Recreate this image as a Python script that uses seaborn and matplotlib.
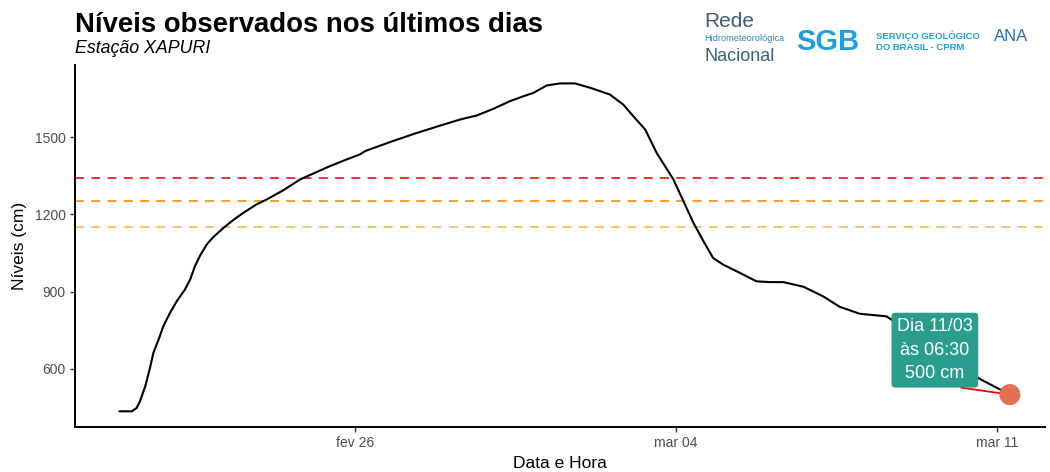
import pandas as pd
import numpy as np
import matplotlib
matplotlib.use("Agg")
import matplotlib.pyplot as plt
import seaborn as sns

# leituras da estação
horarios = [
    "2024-02-20 20:45", "2024-02-21 03:15", "2024-02-21 05:45", "2024-02-21 07:30",
    "2024-02-21 10:15", "2024-02-21 12:45", "2024-02-21 14:30", "2024-02-21 17:15",
    "2024-02-21 19:45", "2024-02-21 23:15", "2024-02-22 02:45", "2024-02-22 07:00",
    "2024-02-22 09:45", "2024-02-22 12:15", "2024-02-22 15:00", "2024-02-22 18:30",
    "2024-02-22 22:00", "2024-02-23 03:15", "2024-02-23 08:15", "2024-02-23 13:30",
    "2024-02-23 20:30", "2024-02-24 01:45", "2024-02-24 10:30", "2024-02-24 19:15",
    "2024-02-25 04:00", "2024-02-25 11:00", "2024-02-25 19:45", "2024-02-26 02:30",
    "2024-02-26 05:15", "2024-02-26 18:15", "2024-02-27 07:15", "2024-02-27 20:30",
    "2024-02-28 07:00", "2024-02-28 15:30", "2024-02-29 00:15", "2024-02-29 09:00",
    "2024-02-29 16:00", "2024-02-29 21:15", "2024-03-01 04:15", "2024-03-01 11:15",
    "2024-03-01 19:00", "2024-03-02 03:00", "2024-03-02 13:15", "2024-03-02 20:15",
    "2024-03-03 01:30", "2024-03-03 07:45", "2024-03-03 13:45", "2024-03-03 22:30",
    "2024-03-04 09:00", "2024-03-04 14:15", "2024-03-04 19:15", "2024-03-05 00:30",
    "2024-03-05 09:15", "2024-03-05 18:00", "2024-03-06 01:00", "2024-03-06 08:00",
    "2024-03-06 18:30", "2024-03-07 04:45", "2024-03-07 13:30", "2024-03-08 00:00",
    "2024-03-08 14:00", "2024-03-09 12:45", "2024-03-10 14:45", "2024-03-11 06:30",
]
niveis = [
    435, 435, 448, 474, 532, 604, 662, 714,
    766, 818, 863, 908, 947, 999, 1041, 1084,
    1113, 1148, 1178, 1206, 1239, 1258, 1294, 1336,
    1365, 1388, 1414, 1433, 1446, 1481, 1514, 1545,
    1569, 1584, 1610, 1640, 1659, 1672, 1701, 1709,
    1709, 1692, 1666, 1627, 1582, 1530, 1439, 1336,
    1167, 1096, 1031, 1005, 973, 940, 937, 937,
    919, 882, 841, 814, 804, 691, 561, 500,
]

# cotas de referência
cotas = [1340, 1252, 1152]
cores_cotas = ["#E8242B", "#F7931E", "#FDBE5A"]

ultimo_horario = "2024-03-11 06:30"
ultimo_nivel = 500
texto_rotulo = "Dia 11/03\nàs 06:30\n500 cm"

ticks_x = ["2024-02-26", "2024-03-04", "2024-03-11"]
rotulos_x = ["fev 26", "mar 04", "mar 11"]
ticks_y = [600, 900, 1200, 1500]

df = pd.DataFrame({"DataHora": pd.to_datetime(horarios), "Nivel": niveis})
df_ult = pd.DataFrame({"DataHora": pd.to_datetime([ultimo_horario]), "Nivel": [ultimo_nivel]})

sns.set_theme(style="white")
plt.rcParams["font.family"] = ["Liberation Sans", "DejaVu Sans"]

fig = plt.figure(figsize=(10.5, 4.72), dpi=100)
ax = fig.add_axes([0.0714, 0.0953, 0.9236, 0.7667])

for c, cor in zip(cotas, cores_cotas):
    ax.axhline(c, color=cor, lw=1.3, ls=(0, (5, 4)), zorder=1)

sns.lineplot(data=df, x="DataHora", y="Nivel", color="black", lw=1.5, ax=ax, zorder=2)
sns.scatterplot(data=df_ult, x="DataHora", y="Nivel", color="#E76F51", s=230,
                edgecolor="none", ax=ax, zorder=4)

# segmento do rótulo
ax.annotate("", xy=(df_ult["DataHora"][0], ultimo_nivel), xycoords="data",
            xytext=(-35, 5), textcoords="offset points",
            arrowprops=dict(arrowstyle="-", color="red", lw=1.3, shrinkA=0, shrinkB=0),
            zorder=3)
ax.annotate(texto_rotulo, xy=(df_ult["DataHora"][0], ultimo_nivel), xycoords="data",
            xytext=(-54, 32), textcoords="offset points",
            ha="center", va="center", color="white", fontsize=13, linespacing=1.5,
            bbox=dict(boxstyle="round,pad=0.3,rounding_size=0.2", fc="#2A9D8F", ec="none"),
            zorder=5)

ax.set_xlim(pd.Timestamp("2024-02-19 21:30"), pd.Timestamp("2024-03-12 00:45"))
ax.set_ylim(374, 1780)
ax.set_xticks(pd.to_datetime(ticks_x))
ax.set_xticklabels(rotulos_x)
ax.set_yticks(ticks_y)

ax.set_xlabel("Data e Hora", fontsize=12.5, color="black", labelpad=4)
ax.set_ylabel("Níveis (cm)", fontsize=12.5, color="black", labelpad=6)
ax.tick_params(axis="both", labelsize=10, labelcolor="#4D4D4D", color="#333333",
               length=3.5, width=1, bottom=True, left=True, pad=3)
sns.despine(ax=ax)
for s in ["left", "bottom"]:
    ax.spines[s].set_color("black")
    ax.spines[s].set_linewidth(1.4)
ax.grid(False)

fig.text(0.0714, 0.932, "Níveis observados nos últimos dias", fontsize=19.8,
         fontweight="bold", color="black", va="baseline")
fig.text(0.0714, 0.887, "Estação XAPURI", fontsize=12.8, style="italic",
         color="black", va="baseline")

# logos (aproximação em texto)
fig.text(0.671, 0.955, "Rede", fontsize=15, color="#3B5F7A", va="center")
fig.text(0.671, 0.918, "Hidrometeorológica", fontsize=6.6, color="#2E86C1", va="center")
fig.text(0.671, 0.880, "Nacional", fontsize=13, color="#3B5F7A", va="center")
fig.text(0.758, 0.912, "SGB", fontsize=21, fontweight="bold", color="#1E9FE3",
         va="center")
fig.text(0.834, 0.925, "SERVIÇO GEOLÓGICO", fontsize=6.8, fontweight="bold",
         color="#1E9FE3", va="center")
fig.text(0.834, 0.900, "DO BRASIL - CPRM", fontsize=6.8, fontweight="bold",
         color="#1E9FE3", va="center")
fig.text(0.947, 0.922, "ANA", fontsize=12, color="#2E6DB4", va="center")

fig.savefig("out.png", dpi=100)
plt.close(fig)
